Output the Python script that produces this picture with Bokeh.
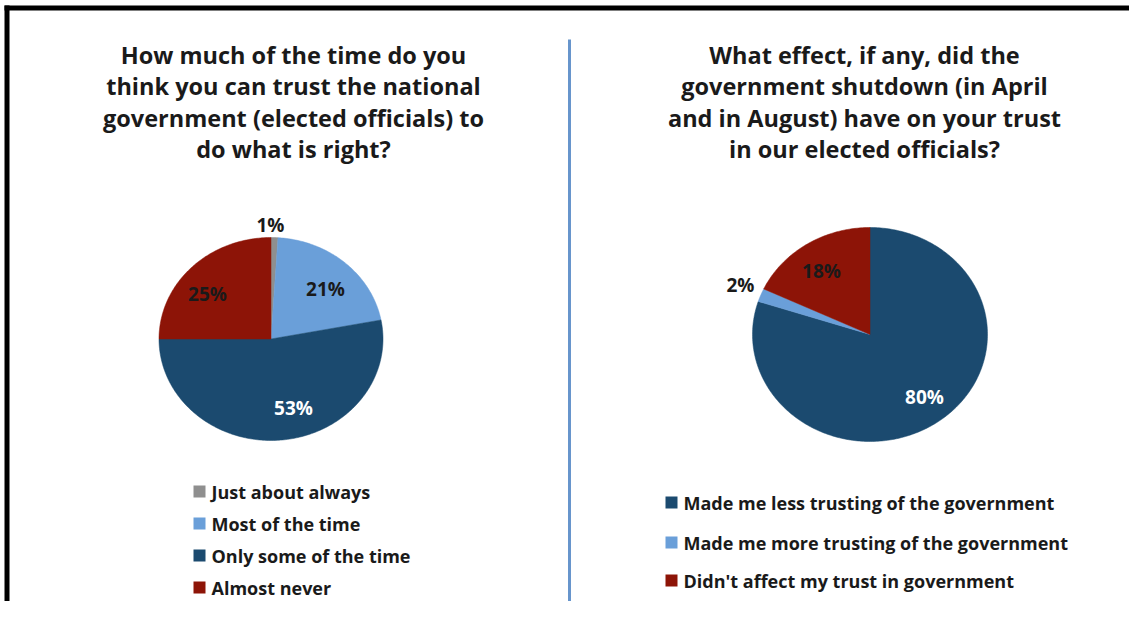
import numpy as np
from bokeh.plotting import figure
from bokeh.models import Range1d
from bokeh.core.properties import value
from bokeh.embed import file_html
from bokeh.resources import INLINE

# ---------------- data ----------------
left_title = ["How much of the time do you",
              "think you can trust the national",
              "government (elected officials) to",
              "do what is right?"]
left_cats = ["Just about always", "Most of the time", "Only some of the time", "Almost never"]
left_vals = [1, 21, 53, 25]

right_title = ["What effect, if any, did the",
               "government shutdown (in April",
               "and in August) have on your trust",
               "in our elected officials?"]
right_cats = ["Made me less trusting of the government",
              "Made me more trusting of the government",
              "Didn't affect my trust in government"]
right_vals = [80, 2, 18]

# ---------------- styles / layout ----------------
left_colors = ["#8f8f8f", "#6a9fd9", "#1b4a6f", "#8d1407"]
right_colors = ["#1b4a6f", "#6a9fd9", "#8d1407"]
left_label_colors = ["#1a1a1a", "#1a1a1a", "#ffffff", "#1a1a1a"]
right_label_colors = ["#ffffff", "#1a1a1a", "#1a1a1a"]
left_label_pos = [(270, 224), (325, 288), (293, 407), (207, 293)]
right_label_pos = [(924, 396), (740, 284), (821, 270)]

W, H = 1129, 601
FONT = "Open Sans"
TXT = "#1a1a1a"


def Y(y):
    return H - y


p = figure(width=W, height=H, x_range=Range1d(0, W), y_range=Range1d(0, H),
           output_backend="svg", toolbar_location=None, min_border=0)
p.axis.visible = False
p.grid.visible = False
p.outline_line_color = None
p.background_fill_color = "white"
p.border_fill_color = "white"


def pie(cx, cy, rx, ry, vals, colors):
    total = float(sum(vals))
    cum = 0.0
    xs, ys = [], []
    for v in vals:
        a0 = 2 * np.pi * cum / total
        a1 = 2 * np.pi * (cum + v) / total
        t = np.linspace(a0, a1, max(8, int(400 * v / total)))
        px = np.concatenate([[cx], cx + rx * np.sin(t), [cx]])
        py = np.concatenate([[Y(cy)], Y(cy) + ry * np.cos(t), [Y(cy)]])
        xs.append(list(px))
        ys.append(list(py))
        cum += v
    p.patches(xs, ys, fill_color=colors, line_color=colors, line_width=0.5)


pie(270.5, 338.5, 112, 101.5, left_vals, left_colors)
pie(869.5, 334, 117.5, 107, right_vals, right_colors)

# value labels
for vals, pos, cols in [(left_vals, left_label_pos, left_label_colors),
                        (right_vals, right_label_pos, right_label_colors)]:
    p.text(x=[q[0] for q in pos], y=[Y(q[1]) for q in pos],
           text=[f"{v}%" for v in vals], text_color=cols,
           text_font=value(FONT), text_font_style="bold", text_font_size="19px",
           text_align="center", text_baseline="middle")

# titles
for lines, cx, y0 in [(left_title, 293, 54), (right_title, 864, 54)]:
    p.text(x=[cx] * len(lines), y=[Y(y0 + 31.5 * i) for i in range(len(lines))],
           text=lines, text_color=TXT, text_font=value(FONT), text_font_style="bold",
           text_font_size="23.5px", text_align="center", text_baseline="middle")

# legends
def legend(cats, colors, sx, ys):
    p.rect(x=[sx + 6] * len(cats), y=[Y(v) for v in ys], width=12, height=12,
           fill_color=colors, line_color=None)
    p.text(x=[sx + 18] * len(cats), y=[Y(v) for v in ys], text=cats, text_color=TXT,
           text_font=value(FONT), text_font_style="bold", text_font_size="18px",
           text_align="left", text_baseline="middle")


legend(left_cats, left_colors, 193, [491, 523, 555, 587])
legend(right_cats, right_colors, 665, [502, 542, 580])

# divider and frame
p.line(x=[569, 569], y=[Y(39), Y(H)], line_color="#6795cc", line_width=3)
p.line(x=[4, W], y=[Y(7.5), Y(7.5)], line_color="black", line_width=5)
p.line(x=[6.5, 6.5], y=[Y(5), Y(H)], line_color="black", line_width=5)

open("out.html", "w").write(file_html(p, INLINE))
